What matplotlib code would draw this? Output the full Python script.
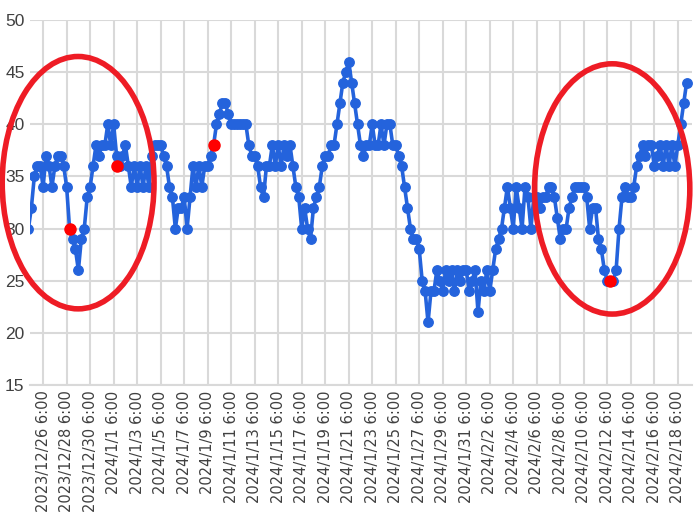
import numpy as np
import pandas as pd
import matplotlib
matplotlib.use("Agg")
import matplotlib.pyplot as plt
import matplotlib.dates as mdates
from matplotlib.patches import Ellipse

# %% Data (readings every 6 hours from 2023/12/25 0:00)

start = pd.Timestamp("2023-12-25 00:00")
values = [30, 32, 35, 36, 36, 34, 37, 36, 34, 36,
          37, 37, 36, 34, 30, 29, 28, 26, 29, 30,
          33, 34, 36, 38, 37, 38, 38, 40, 38, 40,
          37, 36, 37, 38, 36, 34, 36, 34, 36, 34,
          36, 34, 37, 38, 38, 38, 37, 36, 34, 33,
          30, 32, 32, 33, 30, 33, 36, 34, 36, 34,
          36, 36, 37, 38, 40, 41, 42, 42, 41, 40,
          40, 40, 40, 40, 40, 38, 37, 37, 36, 34,
          33, 36, 36, 38, 36, 38, 36, 38, 37, 38,
          36, 34, 33, 30, 32, 30, 29, 32, 33, 34,
          36, 37, 37, 38, 38, 40, 42, 44, 45, 46,
          44, 42, 40, 38, 37, 38, 38, 40, 38, 38,
          40, 38, 40, 40, 38, 38, 37, 36, 34, 32,
          30, 29, 29, 28, 25, 24, 21, 24, 24, 26,
          25, 24, 26, 25, 26, 24, 26, 25, 26, 26,
          24, 25, 26, 22, 25, 24, 26, 24, 26, 28,
          29, 30, 32, 34, 32, 30, 34, 32, 30, 34,
          33, 30, 33, 33, 32, 33, 33, 34, 34, 33,
          31, 29, 30, 30, 32, 33, 34, 34, 34, 34,
          33, 30, 32, 32, 29, 28, 26, 25, 25, 25,
          26, 30, 33, 34, 33, 33, 34, 36, 37, 38,
          37, 38, 38, 36, 37, 38, 36, 38, 36, 38,
          36, 38, 40, 42, 44]
times = pd.date_range(start, periods=len(values), freq="6h")

red_times = pd.to_datetime(["2023-12-28 12:00", "2024-01-01 12:00",
                            "2024-01-09 18:00", "2024-02-12 12:00"])
red_values = [30, 36, 38, 25]

tick_times = pd.date_range("2023-12-26 06:00", "2024-02-18 06:00", freq="48h")
tick_labels = [f"{d.year}/{d.month}/{d.day} {d.hour}:{d.minute:02d}" for d in tick_times]

# %% Plot

fig = plt.figure(figsize=(7, 5.22), dpi=100)
ax = fig.add_axes([0.043, 0.2625, 0.946, 0.6992])

ax.plot(times, values, '-o', color='#2463dc', lw=2.6, ms=6.8, zorder=3)
ax.plot(red_times, red_values, 'o', color='#ff0000', ms=8, zorder=4)

x0 = mdates.date2num(pd.Timestamp("2023-12-26 06:00"))
ax.set_xlim(x0 - 26.6 / 24, x0 + 1325.6 / 24)
ax.set_ylim(15, 50)
ax.set_yticks(np.arange(15, 51, 5))
ax.set_xticks(tick_times)
ax.set_xticklabels(tick_labels, rotation=90, fontsize=10.5, family=['DejaVu Sans'])
for lab in ax.get_yticklabels():
    lab.set_family(['Liberation Sans Narrow', 'Liberation Sans', 'DejaVu Sans'])
    lab.set_fontsize(12.5)

ax.grid(True, color='#d9d9d9', lw=1.5, zorder=0)
ax.tick_params(axis='both', length=0, pad=4, colors='#404040')
for s in ['top', 'right', 'left']:
    ax.spines[s].set_visible(False)
ax.spines['bottom'].set_color('#d9d9d9')
ax.spines['bottom'].set_linewidth(1.5)

# red annotation ellipses
ell_kw = dict(fill=False, edgecolor='#ee1c25', lw=4, zorder=5, clip_on=False)
ax.add_patch(Ellipse((x0 + 71.5 / 24, 34.4), 310 / 24, 24.2, **ell_kw))
ax.add_patch(Ellipse((x0 + 1162 / 24, 33.8), 317 / 24, 24.0, **ell_kw))

plt.savefig("out.png", dpi=100)
plt.close()
